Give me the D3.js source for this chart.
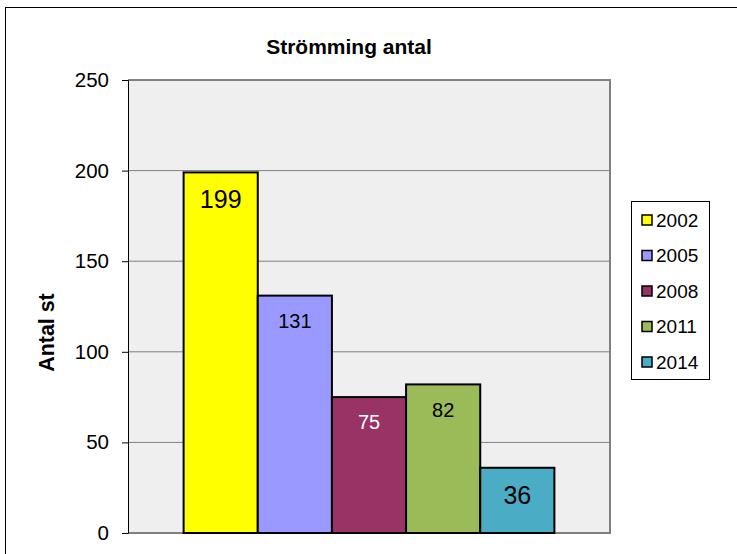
<!DOCTYPE html>
<html>
<head>
<meta charset="utf-8">
<script src="https://cdn.jsdelivr.net/npm/d3@7"></script>
<style>
  body { margin: 0; background: #fff; }
  text { font-family: "Liberation Sans", Arial, sans-serif; }
</style>
</head>
<body>
<div id="chart"></div>
<script>
// data
var years = ["2002", "2005", "2008", "2011", "2014"];
var counts = [199, 131, 75, 82, 36];
var yTicks = [0, 50, 100, 150, 200, 250];

// styles per series
var colors = ["#ffff00", "#9999ff", "#993366", "#9bbb59", "#4bacc6"];
var labelColors = ["#000", "#000", "#fff", "#000", "#000"];
var labelSizes = [25, 20, 20, 20, 25];

var W = 737, H = 554;
var margin = {top: 80, right: 127, bottom: 21, left: 128},
    width = W - margin.left - margin.right,
    height = H - margin.top - margin.bottom;

var svg = d3.select("#chart")
  .append("svg")
    .attr("width", W)
    .attr("height", H);

// outer chart border
svg.append("rect")
  .attr("x", 5.5).attr("y", 7.5)
  .attr("width", W).attr("height", H)
  .attr("fill", "#fff")
  .attr("stroke", "#000")
  .attr("stroke-width", 1);

var g = svg.append("g")
  .attr("transform", "translate(" + margin.left + "," + margin.top + ")");

var y = d3.scaleLinear()
  .domain([0, 250])
  .range([height, 0]);

// one category, five series; gap width 150%
var x = d3.scaleBand()
  .domain(years)
  .range([0, width])
  .paddingInner(0)
  .paddingOuter(0.75);

// plot area
g.append("rect")
  .attr("width", width).attr("height", height)
  .attr("fill", "#efefef");

// gridlines
g.selectAll(".grid")
  .data(yTicks.filter(function(d) { return d > 0; }))
  .enter().append("line")
    .attr("x1", 0).attr("x2", width)
    .attr("y1", function(d) { return y(d); })
    .attr("y2", function(d) { return y(d); })
    .attr("stroke", "#808080")
    .attr("stroke-width", 1);

// plot border (top/right/bottom)
g.append("path")
  .attr("d", "M0,0H" + width + "V" + height + "H0")
  .attr("fill", "none")
  .attr("stroke", "#808080")
  .attr("stroke-width", 2);

// bars
g.selectAll(".bar")
  .data(counts)
  .enter().append("rect")
    .attr("class", "bar")
    .attr("x", function(d, i) { return x(years[i]); })
    .attr("y", function(d) { return y(d); })
    .attr("width", x.bandwidth())
    .attr("height", function(d) { return height - y(d); })
    .attr("fill", function(d, i) { return colors[i]; })
    .attr("stroke", "#000")
    .attr("stroke-width", 2);

// data labels
g.selectAll(".lbl")
  .data(counts)
  .enter().append("text")
    .attr("x", function(d, i) { return x(years[i]) + x.bandwidth() / 2; })
    .attr("y", function(d, i) { return y(d) + 18 + labelSizes[i] * 0.716; })
    .attr("text-anchor", "middle")
    .attr("font-size", function(d, i) { return labelSizes[i] + "px"; })
    .attr("fill", function(d, i) { return labelColors[i]; })
    .text(function(d) { return d; });

// y axis
var yAxis = g.append("g")
  .call(d3.axisLeft(y).tickValues(yTicks).tickSize(6).tickPadding(13));
yAxis.select(".domain").attr("stroke", "#000").attr("stroke-width", 1);
yAxis.selectAll(".tick line").attr("stroke", "#000");
yAxis.selectAll(".tick text")
  .attr("font-size", "20.5px")
  .attr("fill", "#000")
  .attr("font-family", "Liberation Sans, Arial, sans-serif");

// title
svg.append("text")
  .attr("x", 349).attr("y", 54)
  .attr("text-anchor", "middle")
  .attr("font-size", "21px")
  .attr("font-weight", "bold")
  .text("Strömming antal");

// y label
svg.append("text")
  .attr("transform", "translate(54,332.5) rotate(-90)")
  .attr("text-anchor", "middle")
  .attr("font-size", "21.4px")
  .attr("font-weight", "bold")
  .text("Antal st");

// legend
var legend = svg.append("g")
  .attr("transform", "translate(632,202)");
legend.append("rect")
  .attr("x", -0.5).attr("y", -0.5)
  .attr("width", 78).attr("height", 178)
  .attr("fill", "#fff")
  .attr("stroke", "#000")
  .attr("stroke-width", 1);

var item = legend.selectAll(".item")
  .data(years)
  .enter().append("g")
    .attr("transform", function(d, i) { return "translate(10," + (18 + i * 35.5) + ")"; });
item.append("rect")
  .attr("x", 0).attr("y", -5)
  .attr("width", 10).attr("height", 10)
  .attr("fill", function(d, i) { return colors[i]; })
  .attr("stroke", "#000")
  .attr("stroke-width", 1.5);
item.append("text")
  .attr("x", 14).attr("y", 6.5)
  .attr("font-size", "19px")
  .text(function(d) { return d; });
</script>
</body>
</html>
